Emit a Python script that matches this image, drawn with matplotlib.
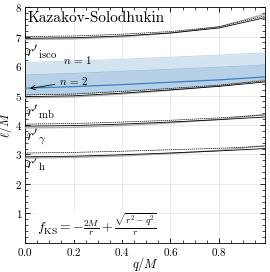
import numpy as np
import matplotlib
matplotlib.use("Agg")
import matplotlib.pyplot as plt
from matplotlib.ticker import MultipleLocator

plt.rcParams["font.family"] = "serif"
plt.rcParams["font.serif"] = ["cmr10"]
plt.rcParams["mathtext.fontset"] = "cm"
plt.rcParams["axes.formatter.use_mathtext"] = True

# charge samples
q = [0.0, 0.2, 0.4, 0.6, 0.8, 0.99]

# top group (around 7)
top_dash = [7.00, 7.02, 7.08, 7.17, 7.33, 7.70]
top_solid = [6.94, 6.96, 7.02, 7.12, 7.29, 7.64]
top_gray = [6.90, 6.92, 6.99, 7.12, 7.33, 7.76]

# isco group (around 5)
isco_dash = [5.02, 5.05, 5.14, 5.24, 5.35, 5.50]
isco_solid = [4.96, 4.99, 5.08, 5.19, 5.31, 5.46]
isco_gray = [4.92, 4.95, 5.05, 5.18, 5.33, 5.54]

# bands
band1_top = [6.12, 6.17, 6.23, 6.30, 6.37, 6.45]
band2_top = [5.70, 5.75, 5.82, 5.89, 5.96, 6.04]
n2_line = [5.25, 5.30, 5.37, 5.45, 5.53, 5.63]

# mb group (around 4)
mb_dash = [4.03, 4.05, 4.10, 4.16, 4.24, 4.34]
mb_solid = [3.96, 3.98, 4.03, 4.10, 4.18, 4.27]
mb_gray = [3.90, 3.92, 3.98, 4.07, 4.19, 4.36]

# photon / horizon group (around 3)
ph_dash = [3.05, 3.07, 3.11, 3.16, 3.21, 3.28]
ph_solid = [2.92, 2.94, 2.99, 3.05, 3.12, 3.20]
ph_gray = [2.88, 2.90, 2.95, 3.03, 3.14, 3.30]

yticks = [1, 2, 3, 4, 5, 6, 7, 8]

fig = plt.figure(figsize=(2.7, 2.72), dpi=100)
ax = fig.add_axes([0.093, 0.107, 0.888, 0.867])

blue_l = "#d3e3f0"
blue_m = "#b5d0e7"
blue_d = "#3b7fbf"

ax.fill_between(q, isco_dash, band1_top, color=blue_l, lw=0, zorder=1)
ax.fill_between(q, isco_dash, band2_top, color=blue_m, lw=0, zorder=1)
ax.plot(q, band1_top, color="#bcd5ea", lw=0.6, zorder=2)
ax.plot(q, band2_top, color="#9cc1de", lw=0.6, zorder=2)
ax.plot(q, n2_line, color=blue_d, lw=0.9, zorder=3)

for dash, solid, gray in [(top_dash, top_solid, top_gray),
                          (isco_dash, isco_solid, isco_gray),
                          (mb_dash, mb_solid, mb_gray),
                          (ph_dash, ph_solid, ph_gray)]:
    ax.plot(q, gray, color="#b0b0b0", lw=1.0, zorder=4)
    ax.plot(q, solid, color="black", lw=0.6, zorder=5)
    ax.plot(q, dash, color="black", lw=0.5, ls=(0, (2, 1)), zorder=5)

ax.text(0.012, 7.62, "Kazakov-Solodhukin", fontsize=11, va="center", ha="left")
ax.text(0.005, 6.5, r"$r'_{\rm isco}$", fontsize=11, va="center")
ax.text(0.155, 6.22, r"$n\,=\,1$", fontsize=8, va="center")
ax.annotate(r"$n\,=\,2$", xy=(0.02, 5.24), xytext=(0.14, 5.48), fontsize=8,
            va="center", arrowprops=dict(arrowstyle="->", color="black", lw=0.6,
                                         shrinkA=1, shrinkB=0))
ax.text(0.005, 4.46, r"$r'_{\rm mb}$", fontsize=11, va="center")
ax.text(0.005, 3.62, r"$r'_{\gamma}$", fontsize=11, va="center")
ax.text(0.005, 2.68, r"$r'_{\rm h}$", fontsize=11, va="center")
ax.text(0.05, 0.6, r"$f_{\rm KS} = -\frac{2M}{r} + \frac{\sqrt{r^2 - q^2}}{r}$",
        fontsize=9.8, va="center",
        bbox=dict(facecolor="white", edgecolor="none", pad=1))

ax.set_xlim(0, 0.99)
ax.set_ylim(0, 8)
ax.xaxis.set_major_locator(MultipleLocator(0.2))
ax.xaxis.set_minor_locator(MultipleLocator(0.05))
ax.set_yticks(yticks)
ax.yaxis.set_minor_locator(MultipleLocator(0.2))
ax.tick_params(which="both", direction="in", top=True, right=True, labelsize=8, pad=2)
ax.tick_params(which="major", length=3.5, width=0.6)
ax.tick_params(which="minor", length=2, width=0.5)
for sp in ax.spines.values():
    sp.set_linewidth(0.6)
ax.grid(True, color="#e6e6e6", lw=0.6, zorder=0)
ax.set_axisbelow(True)
ax.set_xlabel(r"$q/M$", fontsize=9)
ax.set_ylabel(r"$\ell/M$", fontsize=9)
ax.xaxis.set_label_coords(0.5, -0.05)
ax.yaxis.set_label_coords(-0.045, 0.5)

fig.savefig("out.png", dpi=100)
